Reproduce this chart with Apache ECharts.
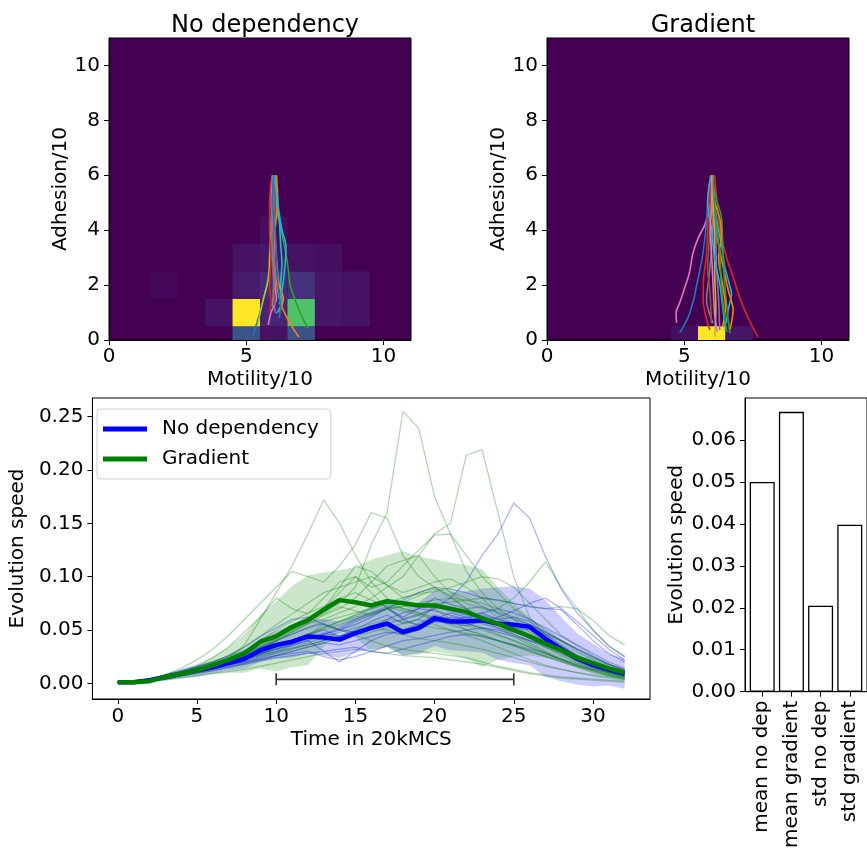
<!DOCTYPE html>
<html>
<head>
<meta charset="utf-8">
<title>Evolution speed</title>
<script src="https://cdn.jsdelivr.net/npm/echarts@6.0.0/dist/echarts.min.js"></script>
<style>
  html, body { margin: 0; padding: 0; background: #fff; }
  #main { width: 867px; height: 851px; }
</style>
</head>
<body>
<div id="main"></div>
<script>
// ---- top heatmaps: [motility, adhesion, normalised count] ----
var cellsNoDep = [
  [5, 0, 0.26], [6, 0, 0.05], [7, 0, 0.25],
  [4, 1, 0.05], [5, 1, 1.0], [6, 1, 0.1], [7, 1, 0.72], [8, 1, 0.06], [9, 1, 0.05],
  [2, 2, 0.02], [5, 2, 0.07], [6, 2, 0.12], [7, 2, 0.14], [8, 2, 0.06], [9, 2, 0.05],
  [5, 3, 0.05], [6, 3, 0.06], [7, 3, 0.05], [8, 3, 0.04],
  [6, 4, 0.04]
];
var cellsGrad = [
  [5, 0, 0.04], [6, 0, 1.0], [7, 0, 0.06]
];

// trajectories (motility, adhesion)
var trajNoDep = [
  [[6, 6], [5.95, 5.2], [6.05, 4.4], [5.9, 3.5], [5.85, 2.6], [5.7, 1.8], [5.5, 1.0], [5.25, 0.18]],
  [[6, 6], [6.0, 5.0], [5.9, 4.0], [5.85, 3.0], [5.8, 2.2], [5.6, 1.4], [5.4, 0.5]],
  [[6.05, 6], [6.1, 5.2], [6.0, 4.3], [6.0, 3.5], [6.05, 2.5], [6.15, 1.8], [6.3, 1.2], [6.6, 0.6], [6.92, 0.1]],
  [[6.0, 6], [6.05, 5.0], [6.2, 4.3], [6.35, 3.6], [6.5, 2.8], [6.6, 2.0], [6.8, 1.4], [7.0, 0.9], [7.25, 0.42]],
  [[5.95, 6], [5.9, 5.0], [6.0, 4.0], [6.0, 3.0], [6.05, 2.0], [6.1, 1.5], [5.9, 1.0], [5.8, 0.55]],
  [[6.05, 6], [6.1, 5.0], [6.2, 4.4], [6.25, 3.5], [6.3, 2.8], [6.25, 2.0], [6.3, 1.4], [6.1, 0.97]],
  [[5.9, 5.8], [5.85, 5.0], [5.85, 4.0], [5.9, 3.0], [5.85, 2.0], [5.9, 1.4], [5.85, 0.97]],
  [[6.0, 6], [6.0, 5.0], [5.95, 4.2], [6.0, 3.2], [6.05, 2.4], [6.0, 1.6], [6.05, 1.0]],
  [[6.0, 5.9], [6.05, 5.0], [6.0, 4.0], [5.95, 3.0], [6.0, 2.0], [6.05, 1.3]],
  [[6.0, 6], [5.95, 5.2], [5.9, 4.2], [5.95, 3.2], [6.0, 2.2], [5.95, 1.2]],
  [[6.1, 6], [6.15, 5.0], [6.05, 4.0], [6.1, 3.0], [6.2, 2.0], [6.35, 1.5], [6.2, 1.0]],
  [[6.0, 6], [6.1, 5.4], [6.2, 4.6], [6.3, 4.0], [6.45, 3.4], [6.4, 2.6], [6.3, 1.8], [6.2, 1.3]],
  [[6.0, 6], [5.95, 5.0], [6.05, 4.0], [6.1, 3.0], [6.15, 2.0], [6.25, 1.2], [6.2, 0.8]]
];
var colNoDep = ['#1f77b4', '#bcbd22', '#ff7f0e', '#2ca02c', '#e377c2', '#17becf', '#d62728',
                '#9467bd', '#8c564b', '#7f7f7f', '#ff7f0e', '#17becf', '#1f77b4'];

var trajGrad = [
  [[6.0, 6.0], [5.95, 5.0], [5.75, 4.2], [5.5, 3.7], [5.3, 3.1], [5.2, 2.5], [5.05, 2.0], [4.85, 1.4], [4.7, 0.97], [4.72, 0.63]],
  [[5.95, 6.0], [5.85, 5.0], [5.8, 4.2], [5.7, 3.3], [5.62, 2.8], [5.45, 2.0], [5.35, 1.5], [5.15, 0.85], [4.84, 0.26]],
  [[6.1, 6], [6.2, 5.0], [6.3, 4.0], [6.41, 3.52], [6.6, 2.8], [6.78, 2.3], [7.0, 1.6], [7.2, 1.09], [7.45, 0.55], [7.69, 0.1]],
  [[6.0, 6], [6.1, 5.0], [6.25, 4.0], [6.4, 3.2], [6.47, 2.67], [6.65, 2.0], [6.72, 1.7], [6.6, 1.1], [6.53, 0.61]],
  [[6.05, 6], [6.0, 5.0], [6.15, 4.0], [6.29, 3.27], [6.45, 2.5], [6.6, 1.82], [6.78, 1.09], [6.66, 0.36]],
  [[6.0, 6], [6.15, 5.2], [6.35, 4.5], [6.4, 3.5], [6.47, 2.06], [6.55, 1.2], [6.66, 0.24]],
  [[6.0, 6], [6.05, 4.8], [5.99, 3.27], [5.9, 2.3], [5.81, 1.45], [6.05, 0.61]],
  [[6.0, 6], [6.05, 5.0], [6.1, 3.8], [6.11, 2.3], [6.15, 1.2], [6.11, 0.12]],
  [[6.0, 6], [6.1, 5.0], [6.15, 4.0], [6.17, 2.67], [6.25, 1.5], [6.29, 0.36]],
  [[6.0, 6], [5.95, 4.8], [5.9, 3.5], [5.85, 2.6], [5.93, 1.82], [5.99, 0.61]],
  [[5.95, 6], [5.9, 5.0], [5.85, 4.0], [5.8, 3.0], [5.7, 2.2], [5.69, 1.45], [5.8, 0.8], [5.93, 0.36]],
  [[6.05, 6], [6.1, 5.1], [6.3, 4.4], [6.35, 3.8], [6.25, 3.0], [6.4, 2.0], [6.5, 1.2], [6.4, 0.5]],
  [[6.0, 6], [5.9, 5.6], [5.85, 5.0], [6.0, 4.0], [6.1, 3.0], [6.3, 2.0], [6.4, 1.2], [6.5, 0.4]],
  [[6.05, 6], [6.1, 5.0], [6.2, 4.0], [6.3, 3.0], [6.35, 2.0], [6.45, 1.0], [6.55, 0.3]],
  [[6.0, 6], [6.0, 5.0], [5.95, 4.0], [6.0, 3.0], [6.05, 2.0], [6.1, 1.0], [6.2, 0.3]]
];
var colGrad = ['#e377c2', '#1f77b4', '#d62728', '#17becf', '#ff7f0e', '#2ca02c', '#7f7f7f',
               '#bcbd22', '#9467bd', '#8c564b', '#d62728', '#ff7f0e', '#17becf', '#2ca02c', '#e377c2'];

var heatTicksX = [0, 5, 10];
var heatTicksY = [0, 2, 4, 6, 8, 10];
var viridis = ['#440154', '#482878', '#3e4989', '#31688e', '#26828e', '#1f9e89', '#35b779', '#6ece58', '#b5de2b', '#fde725'];

// ---- evolution speed over time ----
var timeTicks = [0, 5, 10, 15, 20, 25, 30];
var speedTicks = [0, 0.05, 0.1, 0.15, 0.2, 0.25];
var blueMean = [0.001, 0.001, 0.003, 0.006, 0.009, 0.012, 0.015, 0.019, 0.023, 0.031, 0.036, 0.039, 0.044, 0.043, 0.041, 0.047, 0.052,
                0.056, 0.048, 0.052, 0.061, 0.058, 0.058, 0.059, 0.056, 0.055, 0.053, 0.042, 0.032, 0.023, 0.017, 0.013, 0.009];
var blueStd = [0, 0.0005, 0.001, 0.003, 0.004, 0.005, 0.006, 0.007, 0.009, 0.011, 0.013, 0.015, 0.016, 0.017, 0.017, 0.018, 0.02,
               0.022, 0.022, 0.024, 0.026, 0.027, 0.028, 0.03, 0.034, 0.036, 0.036, 0.036, 0.03, 0.024, 0.02, 0.015, 0.014];
var greenMean = [0.001, 0.001, 0.002, 0.006, 0.009, 0.012, 0.017, 0.022, 0.028, 0.039, 0.044, 0.053, 0.059, 0.069, 0.078, 0.076, 0.073,
                 0.077, 0.075, 0.073, 0.073, 0.070, 0.067, 0.061, 0.056, 0.050, 0.044, 0.037, 0.031, 0.024, 0.019, 0.014, 0.010];
var greenStd = [0, 0.0005, 0.001, 0.003, 0.004, 0.006, 0.008, 0.012, 0.018, 0.025, 0.033, 0.038, 0.042, 0.035, 0.028, 0.033, 0.043,
                0.043, 0.049, 0.046, 0.043, 0.043, 0.044, 0.046, 0.034, 0.025, 0.018, 0.013, 0.009, 0.006, 0.005, 0.004, 0.003];

var blueRuns = [
  [0.001,0.001,0.002,0.005,0.008,0.011,0.014,0.017,0.020,0.024,0.028,0.032,0.036,0.040,0.044,0.048,0.052,0.056,0.060,0.064,0.070,0.080,0.095,0.120,0.140,0.169,0.155,0.119,0.088,0.066,0.050,0.035,0.025],
  [0.001,0.002,0.004,0.007,0.010,0.014,0.017,0.020,0.025,0.030,0.034,0.038,0.042,0.046,0.050,0.055,0.062,0.070,0.078,0.085,0.090,0.088,0.085,0.080,0.078,0.075,0.072,0.070,0.069,0.055,0.040,0.028,0.020],
  [0.001,0.001,0.003,0.005,0.008,0.012,0.015,0.018,0.020,0.023,0.026,0.028,0.030,0.025,0.022,0.025,0.030,0.035,0.040,0.042,0.045,0.048,0.050,0.052,0.050,0.046,0.040,0.034,0.028,0.022,0.016,0.012,0.008],
  [0.001,0.002,0.004,0.008,0.012,0.016,0.020,0.026,0.034,0.044,0.052,0.060,0.062,0.055,0.050,0.048,0.052,0.060,0.066,0.070,0.068,0.064,0.060,0.056,0.052,0.048,0.045,0.040,0.034,0.026,0.020,0.014,0.010],
  [0.001,0.001,0.002,0.004,0.007,0.010,0.013,0.016,0.019,0.022,0.026,0.030,0.034,0.038,0.036,0.040,0.044,0.048,0.046,0.050,0.058,0.062,0.060,0.066,0.070,0.066,0.060,0.052,0.044,0.036,0.028,0.020,0.014],
  [0.001,0.001,0.003,0.006,0.009,0.012,0.015,0.018,0.022,0.026,0.030,0.035,0.040,0.046,0.052,0.060,0.066,0.072,0.060,0.054,0.060,0.066,0.062,0.058,0.062,0.068,0.075,0.080,0.070,0.058,0.045,0.032,0.022],
  [0.001,0.002,0.003,0.005,0.007,0.009,0.012,0.015,0.018,0.021,0.024,0.026,0.028,0.030,0.032,0.034,0.030,0.028,0.032,0.036,0.040,0.044,0.046,0.044,0.040,0.036,0.032,0.028,0.022,0.017,0.013,0.010,0.007],
  [0.001,0.001,0.002,0.005,0.008,0.011,0.014,0.018,0.023,0.028,0.034,0.040,0.046,0.050,0.044,0.050,0.058,0.064,0.056,0.060,0.072,0.068,0.064,0.066,0.060,0.056,0.052,0.046,0.040,0.032,0.024,0.017,0.012],
  [0.001,0.002,0.004,0.007,0.011,0.015,0.019,0.023,0.028,0.034,0.040,0.046,0.052,0.056,0.050,0.058,0.064,0.070,0.062,0.070,0.080,0.074,0.070,0.072,0.066,0.060,0.055,0.048,0.040,0.032,0.025,0.018,0.013],
  [0.001,0.001,0.003,0.006,0.009,0.013,0.016,0.020,0.024,0.028,0.032,0.036,0.040,0.030,0.020,0.030,0.040,0.046,0.050,0.054,0.058,0.060,0.056,0.052,0.048,0.044,0.040,0.036,0.030,0.024,0.018,0.013,0.009],
  [0.001,0.001,0.003,0.005,0.008,0.011,0.014,0.018,0.022,0.027,0.032,0.037,0.042,0.047,0.044,0.049,0.054,0.058,0.050,0.056,0.064,0.060,0.062,0.064,0.060,0.062,0.058,0.046,0.036,0.026,0.019,0.014,0.010],
  [0.001,0.002,0.003,0.006,0.009,0.012,0.016,0.020,0.024,0.030,0.036,0.040,0.046,0.044,0.040,0.046,0.050,0.054,0.046,0.050,0.058,0.056,0.054,0.058,0.054,0.052,0.050,0.040,0.030,0.021,0.015,0.011,0.008]
];
var greenRuns = [
  [0.001,0.001,0.003,0.006,0.010,0.014,0.018,0.022,0.030,0.036,0.045,0.050,0.058,0.066,0.075,0.090,0.130,0.160,0.255,0.239,0.175,0.140,0.105,0.085,0.070,0.060,0.048,0.040,0.030,0.022,0.016,0.010,0.006],
  [0.001,0.002,0.003,0.005,0.009,0.013,0.016,0.020,0.026,0.032,0.040,0.048,0.056,0.060,0.066,0.072,0.080,0.090,0.100,0.120,0.140,0.150,0.214,0.219,0.160,0.100,0.062,0.045,0.035,0.025,0.016,0.010,0.006],
  [0.001,0.001,0.002,0.005,0.008,0.012,0.018,0.024,0.036,0.060,0.085,0.110,0.140,0.172,0.150,0.120,0.095,0.080,0.070,0.066,0.060,0.055,0.050,0.046,0.040,0.035,0.030,0.025,0.020,0.015,0.010,0.007,0.004],
  [0.001,0.002,0.004,0.008,0.014,0.022,0.032,0.045,0.060,0.075,0.090,0.105,0.100,0.095,0.110,0.130,0.160,0.155,0.120,0.100,0.090,0.080,0.070,0.062,0.055,0.046,0.038,0.030,0.023,0.017,0.012,0.008,0.005],
  [0.001,0.001,0.003,0.006,0.010,0.014,0.018,0.022,0.028,0.035,0.042,0.050,0.060,0.070,0.085,0.100,0.090,0.095,0.110,0.125,0.139,0.140,0.120,0.100,0.085,0.070,0.060,0.050,0.040,0.030,0.022,0.015,0.010],
  [0.001,0.002,0.004,0.007,0.010,0.013,0.016,0.020,0.025,0.030,0.036,0.040,0.045,0.050,0.055,0.060,0.065,0.070,0.072,0.075,0.078,0.080,0.078,0.075,0.070,0.080,0.095,0.114,0.090,0.070,0.050,0.035,0.025],
  [0.001,0.001,0.003,0.005,0.008,0.011,0.014,0.018,0.022,0.028,0.034,0.040,0.046,0.052,0.058,0.062,0.066,0.070,0.072,0.074,0.075,0.076,0.078,0.080,0.078,0.075,0.072,0.070,0.072,0.070,0.059,0.045,0.036],
  [0.001,0.002,0.003,0.006,0.010,0.015,0.020,0.026,0.034,0.044,0.055,0.065,0.075,0.085,0.090,0.095,0.100,0.092,0.085,0.090,0.095,0.098,0.090,0.080,0.065,0.055,0.045,0.036,0.028,0.020,0.014,0.009,0.006],
  [0.001,0.001,0.002,0.004,0.007,0.010,0.012,0.015,0.018,0.022,0.026,0.030,0.034,0.038,0.042,0.045,0.040,0.035,0.032,0.030,0.028,0.026,0.024,0.020,0.016,0.013,0.010,0.008,0.006,0.005,0.004,0.003,0.002],
  [0.001,0.002,0.004,0.007,0.011,0.014,0.017,0.020,0.024,0.028,0.032,0.036,0.045,0.055,0.050,0.045,0.048,0.052,0.056,0.060,0.055,0.050,0.045,0.040,0.034,0.028,0.022,0.017,0.013,0.010,0.008,0.006,0.004],
  [0.001,0.001,0.003,0.006,0.009,0.012,0.016,0.021,0.027,0.034,0.042,0.050,0.058,0.065,0.072,0.068,0.064,0.070,0.076,0.082,0.088,0.086,0.080,0.072,0.062,0.052,0.043,0.034,0.026,0.019,0.014,0.010,0.007],
  [0.001,0.002,0.003,0.005,0.008,0.011,0.015,0.019,0.023,0.027,0.030,0.033,0.036,0.040,0.044,0.048,0.052,0.050,0.046,0.042,0.040,0.038,0.035,0.032,0.028,0.024,0.020,0.016,0.013,0.010,0.007,0.005,0.003],
  [0.001,0.001,0.003,0.006,0.010,0.016,0.024,0.034,0.048,0.062,0.080,0.070,0.065,0.080,0.095,0.100,0.085,0.070,0.060,0.065,0.070,0.060,0.050,0.045,0.040,0.035,0.030,0.025,0.020,0.016,0.012,0.008,0.005],
  [0.001,0.002,0.003,0.006,0.009,0.012,0.015,0.019,0.024,0.029,0.034,0.040,0.046,0.052,0.058,0.064,0.070,0.076,0.080,0.084,0.086,0.090,0.095,0.100,0.098,0.090,0.075,0.060,0.045,0.035,0.026,0.018,0.012],
  [0.001,0.001,0.002,0.003,0.005,0.007,0.009,0.011,0.013,0.016,0.019,0.022,0.025,0.028,0.030,0.032,0.030,0.028,0.026,0.025,0.024,0.022,0.020,0.018,0.015,0.012,0.009,0.007,0.005,0.004,0.003,0.002,0.001],
  [0.001,0.001,0.003,0.005,0.008,0.012,0.016,0.020,0.026,0.032,0.040,0.048,0.056,0.064,0.070,0.080,0.095,0.110,0.115,0.120,0.100,0.085,0.075,0.070,0.068,0.062,0.055,0.048,0.040,0.032,0.025,0.018,0.012],
  [0.001,0.002,0.003,0.005,0.008,0.012,0.017,0.023,0.030,0.040,0.050,0.058,0.066,0.072,0.080,0.085,0.078,0.072,0.068,0.064,0.060,0.058,0.056,0.052,0.046,0.040,0.034,0.028,0.022,0.016,0.012,0.008,0.005],
  [0.001,0.001,0.002,0.004,0.007,0.011,0.015,0.020,0.026,0.033,0.040,0.046,0.052,0.058,0.062,0.066,0.070,0.074,0.070,0.066,0.062,0.058,0.054,0.050,0.045,0.040,0.034,0.028,0.023,0.018,0.013,0.009,0.006],
  [0.001,0.002,0.004,0.007,0.011,0.015,0.020,0.025,0.031,0.038,0.046,0.054,0.062,0.070,0.090,0.110,0.105,0.092,0.080,0.085,0.090,0.082,0.070,0.060,0.052,0.044,0.036,0.029,0.022,0.016,0.011,0.007,0.004],
  [0.001,0.001,0.003,0.005,0.008,0.011,0.014,0.017,0.021,0.025,0.029,0.033,0.038,0.043,0.048,0.052,0.056,0.060,0.058,0.055,0.052,0.050,0.047,0.044,0.040,0.036,0.031,0.026,0.021,0.017,0.013,0.010,0.007]
];
var bracket = [[10, 0.0037], [25, 0.0037]];

// ---- bar summary ----
var barNames = ['mean no dep', 'mean gradient', 'std no dep', 'std gradient'];
var barValues = [0.0500, 0.0667, 0.0205, 0.0398];
var barTicks = [0, 0.01, 0.02, 0.03, 0.04, 0.05, 0.06];

var FONT = 'DejaVu Sans';
var chart = echarts.init(document.getElementById('main'));

function pairs(arr) { return arr.map(function (v, i) { return [i, v]; }); }

function cellItem(params, api) {
  var x = api.value(0), y = api.value(1);
  var p0 = api.coord([x - 0.5, y + 0.5]);
  var p1 = api.coord([x + 0.5, y - 0.5]);
  var cs = params.coordSys;
  var r = echarts.graphic.clipRectByRect(
    { x: p0[0], y: p0[1], width: p1[0] - p0[0], height: p1[1] - p0[1] },
    { x: cs.x, y: cs.y, width: cs.width, height: cs.height });
  if (!r) return;
  return { type: 'rect', shape: r, style: { fill: api.visual('color') } };
}

// polygon between mean-std and mean+std, drawn once per series
function bandItem(mean, std, color) {
  return function (params, api) {
    if (params.dataIndex !== 0) return;
    var pts = [];
    for (var i = 0; i < mean.length; i++) pts.push(api.coord([i, mean[i] + std[i]]));
    for (var j = mean.length - 1; j >= 0; j--) pts.push(api.coord([j, mean[j] - std[j]]));
    return { type: 'polygon', shape: { points: pts }, style: { fill: color } };
  };
}

function valAxis(o) {
  return {
    type: 'value', gridIndex: o.grid, min: o.min, max: o.max,
    name: o.name, nameLocation: 'middle', nameGap: o.gap,
    nameTextStyle: { fontFamily: FONT, fontSize: 20, color: '#000' },
    splitLine: { show: false },
    axisLine: { show: true, onZero: false, lineStyle: { color: '#000', width: 1 } },
    axisTick: { show: true, length: 5, customValues: o.ticks, lineStyle: { color: '#000', width: 1 } },
    axisLabel: { customValues: o.ticks, fontFamily: FONT, fontSize: 20, color: '#000', margin: o.margin || 9,
                 formatter: o.fmt, rotate: o.rotate || 0 },
    z: 10
  };
}

var series = [];
series.push({ type: 'custom', xAxisIndex: 0, yAxisIndex: 0, renderItem: cellItem, data: cellsNoDep,
              encode: { x: 0, y: 1 }, silent: true });
series.push({ type: 'custom', xAxisIndex: 1, yAxisIndex: 1, renderItem: cellItem, data: cellsGrad,
              encode: { x: 0, y: 1 }, silent: true });
trajNoDep.forEach(function (t, i) {
  series.push({ type: 'line', xAxisIndex: 0, yAxisIndex: 0, data: t, showSymbol: false, symbol: 'none',
                smooth: 0.3, lineStyle: { color: colNoDep[i], width: 1.6 }, silent: true, z: 3 });
});
trajGrad.forEach(function (t, i) {
  series.push({ type: 'line', xAxisIndex: 1, yAxisIndex: 1, data: t, showSymbol: false, symbol: 'none',
                smooth: 0.3, lineStyle: { color: colGrad[i], width: 1.6 }, silent: true, z: 3 });
});

series.push({ type: 'custom', xAxisIndex: 2, yAxisIndex: 2, data: pairs(blueMean), encode: { x: 0, y: 1 },
              renderItem: bandItem(blueMean, blueStd, 'rgba(0,0,255,0.2)'), silent: true, z: 2 });
series.push({ type: 'custom', xAxisIndex: 2, yAxisIndex: 2, data: pairs(greenMean), encode: { x: 0, y: 1 },
              renderItem: bandItem(greenMean, greenStd, 'rgba(0,128,0,0.2)'), silent: true, z: 2 });

blueRuns.forEach(function (r) {
  series.push({ type: 'line', xAxisIndex: 2, yAxisIndex: 2, data: pairs(r), symbol: 'none',
                lineStyle: { color: 'rgba(0,0,255,0.3)', width: 1.3 }, silent: true, z: 3 });
});
greenRuns.forEach(function (r) {
  series.push({ type: 'line', xAxisIndex: 2, yAxisIndex: 2, data: pairs(r), symbol: 'none',
                lineStyle: { color: 'rgba(0,128,0,0.3)', width: 1.3 }, silent: true, z: 3 });
});
series.push({ name: 'No dependency', type: 'line', xAxisIndex: 2, yAxisIndex: 2, data: pairs(blueMean),
              symbol: 'none', color: '#0000ff', lineStyle: { color: '#0000ff', width: 4.5 }, z: 5 });
series.push({ name: 'Gradient', type: 'line', xAxisIndex: 2, yAxisIndex: 2, data: pairs(greenMean),
              symbol: 'none', color: '#008000', lineStyle: { color: '#008000', width: 4.5 }, z: 5 });
series.push({ type: 'line', xAxisIndex: 2, yAxisIndex: 2, data: bracket, symbol: 'rect', symbolSize: [1.6, 12],
              showSymbol: true, itemStyle: { color: '#333' }, lineStyle: { color: '#333', width: 1.6 }, silent: true, z: 6 });

series.push({ type: 'bar', xAxisIndex: 3, yAxisIndex: 3, barWidth: 25, clip: false,
              data: barValues.map(function (v, i) { return [i, v]; }),
              itemStyle: { color: '#fff', borderColor: '#000', borderWidth: 1.3 }, silent: true });

var fmt2 = function (v) { return v.toFixed(2); };
var fmtInt = function (v) { return String(Math.round(v)); };

chart.setOption({
  animation: false,
  backgroundColor: '#fff',
  title: [
    { text: 'No dependency', left: 260, top: 9, textAlign: 'center',
      textStyle: { fontFamily: FONT, fontSize: 24, fontWeight: 'normal', color: '#000' } },
    { text: 'Gradient', left: 698, top: 9, textAlign: 'center',
      textStyle: { fontFamily: FONT, fontSize: 24, fontWeight: 'normal', color: '#000' } }
  ],
  legend: {
    data: [{ name: 'No dependency', icon: 'rect' }, { name: 'Gradient', icon: 'rect' }],
    orient: 'vertical', left: 97, top: 409, itemWidth: 44, itemHeight: 5, itemGap: 10,
    padding: [10, 12, 10, 6], backgroundColor: '#fff', borderColor: '#d0d0d0', borderWidth: 1, borderRadius: 4,
    textStyle: { fontFamily: FONT, fontSize: 20, color: '#000', padding: [0, 0, 0, 10] },
    selectedMode: false
  },
  visualMap: [{
    type: 'continuous', show: false, seriesIndex: [0, 1], dimension: 2, min: 0, max: 1,
    inRange: { color: viridis }
  }],
  grid: [
    { left: 109, top: 38, width: 302, height: 302, show: true, backgroundColor: '#440154', borderColor: '#000', borderWidth: 1 },
    { left: 547, top: 38, width: 302, height: 302, show: true, backgroundColor: '#440154', borderColor: '#000', borderWidth: 1 },
    { left: 87, top: 398, width: 563, height: 301, show: true, borderColor: '#000', borderWidth: 1 },
    { left: 745, top: 398, width: 130, height: 301, show: true, borderColor: '#000', borderWidth: 1 }
  ],
  xAxis: [
    valAxis({ grid: 0, min: 0, max: 11, ticks: heatTicksX, name: 'Motility/10', gap: 30, margin: 7, fmt: fmtInt }),
    valAxis({ grid: 1, min: 0, max: 11, ticks: heatTicksX, name: 'Motility/10', gap: 30, margin: 7, fmt: fmtInt }),
    valAxis({ grid: 2, min: -1.6, max: 33.6, ticks: timeTicks, name: 'Time in 20kMCS', gap: 31, margin: 8, fmt: fmtInt }),
    valAxis({ grid: 3, min: -0.59, max: 3.59, ticks: [0, 1, 2, 3], gap: 30, margin: 9, rotate: 90,
              fmt: function (v) { return barNames[Math.round(v)]; } })
  ],
  yAxis: [
    valAxis({ grid: 0, min: 0, max: 11, ticks: heatTicksY, name: 'Adhesion/10', gap: 36, fmt: fmtInt }),
    valAxis({ grid: 1, min: 0, max: 11, ticks: heatTicksY, name: 'Adhesion/10', gap: 36, fmt: fmtInt }),
    valAxis({ grid: 2, min: -0.0147, max: 0.2675, ticks: speedTicks, name: 'Evolution speed', gap: 58, fmt: fmt2 }),
    valAxis({ grid: 3, min: 0, max: 0.07, ticks: barTicks, name: 'Evolution speed', gap: 58, fmt: fmt2 })
  ],
  series: series
});
</script>
</body>
</html>
